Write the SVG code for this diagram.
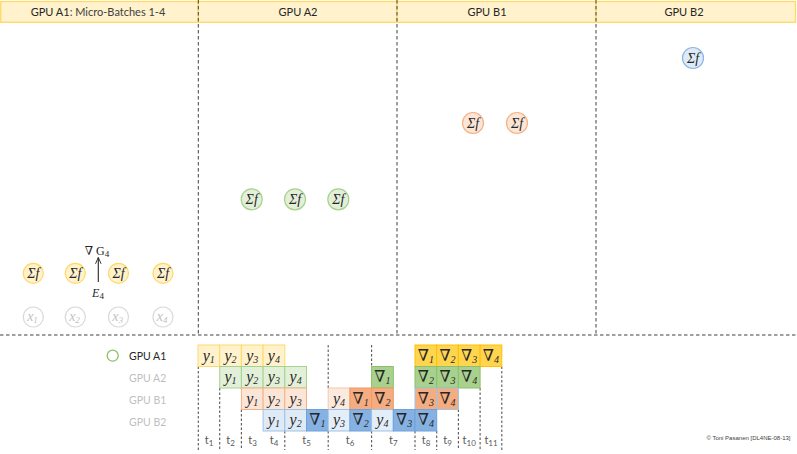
<svg xmlns="http://www.w3.org/2000/svg" width="797" height="454" viewBox="0 0 797 454">
<defs>
<style>
.hdr{fill:#FFF2CC;stroke:#FFD966;stroke-width:1.3}
.ht{font-family:Lato,"Liberation Sans",sans-serif;font-size:11px;fill:#262626;text-anchor:middle}
.hl{fill:#404040}
.sep{stroke:#404040;stroke-width:1;stroke-dasharray:3.5,2.5;fill:none}
.tl{stroke:#595959;stroke-width:1.1;stroke-dasharray:2.5,2;fill:none}
.m{font-family:"Liberation Serif","DejaVu Serif",serif;font-size:14px;fill:#262626;text-anchor:middle}
.i{font-style:italic}
.s{font-size:9px;font-style:italic}
.sy{fill:#FFF2CC;stroke:#FFD966;stroke-width:1.2}
.sg{fill:#E2F0D9;stroke:#A9D18E;stroke-width:1.2}
.so{fill:#FBE5D6;stroke:#F4B183;stroke-width:1.2}
.sb{fill:#DEEBF7;stroke:#8FB4E3;stroke-width:1.2}
.sx{fill:#FFFFFF;stroke:#D9D9D9;stroke-width:1.2}
.xt{fill:#BFBFBF}
.fy{fill:#FFF2CC;stroke:#FFD966;stroke-width:1}
.by{fill:#FFD54F;stroke:#FFC000;stroke-width:1}
.fg{fill:#E2F0D9;stroke:#A9D18E;stroke-width:1}
.bg{fill:#A9D18E;stroke:#8CC06A;stroke-width:1}
.fo{fill:#FBE5D6;stroke:#F4B183;stroke-width:1}
.bo{fill:#F4AC80;stroke:#F29A62;stroke-width:1}
.fb{fill:#DEEBF7;stroke:#9DC3E6;stroke-width:1}
.bb{fill:#86B2E3;stroke:#6FA2DA;stroke-width:1}
.ct{font-family:"Liberation Serif","DejaVu Serif",serif;font-size:16px;fill:#262626;text-anchor:middle}
.cs{font-size:10px;font-style:italic}
.lg{font-family:Lato,"Liberation Sans",sans-serif;font-size:10.5px;fill:#BFBFBF}
.tt{font-family:Lato,"Liberation Sans",sans-serif;font-size:11px;fill:#595959;text-anchor:middle}
.ts{font-size:8px}
</style>
<marker id="arr" viewBox="0 0 10 10" refX="9" refY="5" markerWidth="7" markerHeight="7" orient="auto-start-reverse" markerUnits="userSpaceOnUse">
<path d="M0,1 L9,5 L0,9" fill="none" stroke="#262626" stroke-width="1.3"/>
</marker>
</defs>
<rect width="797" height="454" fill="#FFFFFF"/>

<g id="header">
<rect class="hdr" x="0.7" y="1.5" width="197.6" height="20.8"/>
<rect class="hdr" x="198.3" y="1.5" width="198.7" height="20.8"/>
<rect class="hdr" x="397" y="1.5" width="199" height="20.8"/>
<rect class="hdr" x="596" y="1.5" width="199.5" height="20.8"/>
<text class="ht" x="98" y="16">GPU A1<tspan class="hl">: Micro-Batches 1-4</tspan></text>
<text class="ht" x="298" y="16">GPU A2</text>
<text class="ht" x="487" y="16">GPU B1</text>
<text class="ht" x="684" y="16">GPU B2</text>
</g>

<g id="separators">
<line class="sep" x1="198.3" y1="0" x2="198.3" y2="335"/>
<line class="sep" x1="397" y1="0" x2="397" y2="335"/>
<line class="sep" x1="596" y1="0" x2="596" y2="335"/>
<line class="sep" x1="0" y1="335" x2="797" y2="335"/>
</g>

<g id="node-a1-f1"><circle class="sy" cx="33.3" cy="273.3" r="10"/><text class="m i" x="33.3" y="278">Σf</text></g>
<g id="node-a1-f2"><circle class="sy" cx="75.3" cy="273.3" r="10"/><text class="m i" x="75.3" y="278">Σf</text></g>
<g id="node-a1-f3"><circle class="sy" cx="118.5" cy="273.3" r="10"/><text class="m i" x="118.5" y="278">Σf</text></g>
<g id="node-a1-f4"><circle class="sy" cx="163" cy="273.3" r="10"/><text class="m i" x="163" y="278">Σf</text></g>

<g id="node-x1"><circle class="sx" cx="33.3" cy="317" r="10"/><text class="m i xt" x="32.5" y="320.5">x<tspan class="s" dy="2">1</tspan></text></g>
<g id="node-x2"><circle class="sx" cx="75.3" cy="317" r="10"/><text class="m i xt" x="74.5" y="320.5">x<tspan class="s" dy="2">2</tspan></text></g>
<g id="node-x3"><circle class="sx" cx="118.5" cy="317" r="10"/><text class="m i xt" x="117.7" y="320.5">x<tspan class="s" dy="2">3</tspan></text></g>
<g id="node-x4"><circle class="sx" cx="163" cy="317" r="10"/><text class="m i xt" x="162.2" y="320.5">x<tspan class="s" dy="2">4</tspan></text></g>

<g id="label-grad"><text class="m" x="97" y="254.5" style="font-size:12px">∇ G<tspan class="s" dy="2" style="font-style:normal">4</tspan></text></g>
<g id="label-e4"><text class="m i" x="98" y="297" style="font-size:12px">E<tspan class="s" dy="2" style="font-style:normal">4</tspan></text></g>

<g id="connectors">
<line x1="98.3" y1="282" x2="98.3" y2="257.5" stroke="#262626" stroke-width="1.1" marker-end="url(#arr)"/>
</g>

<g id="node-a2-f1"><circle class="sg" cx="251.7" cy="199.3" r="10.5"/><text class="m i" x="251.7" y="204">Σf</text></g>
<g id="node-a2-f2"><circle class="sg" cx="295" cy="199.3" r="10.5"/><text class="m i" x="295" y="204">Σf</text></g>
<g id="node-a2-f3"><circle class="sg" cx="338.3" cy="199.3" r="10.5"/><text class="m i" x="338.3" y="204">Σf</text></g>

<g id="node-b1-f1"><circle class="so" cx="473" cy="123" r="10.5"/><text class="m i" x="473" y="127.7">Σf</text></g>
<g id="node-b1-f2"><circle class="so" cx="517" cy="123" r="10.5"/><text class="m i" x="517" y="127.7">Σf</text></g>

<g id="node-b2-f1"><circle class="sb" cx="693" cy="58" r="10.5"/><text class="m i" x="693" y="62.7">Σf</text></g>

<g id="legend">
<circle cx="112.7" cy="355.7" r="5.5" fill="#FFFFFF" stroke="#8CC06A" stroke-width="1.3"/>
<text class="lg" x="129" y="359.5" style="fill:#262626">GPU A1</text>
<text class="lg" x="129" y="381.5">GPU A2</text>
<text class="lg" x="129" y="403.5">GPU B1</text>
<text class="lg" x="129" y="425.5">GPU B2</text>
</g>

<g id="timeline-lines">
<line class="tl" x1="198.3" y1="366.5" x2="198.3" y2="450"/>
<line class="tl" x1="219.7" y1="388" x2="219.7" y2="450"/>
<line class="tl" x1="241.4" y1="409.5" x2="241.4" y2="450"/>
<line class="tl" x1="284.8" y1="431" x2="284.8" y2="450"/>
<line class="tl" x1="328.2" y1="345" x2="328.2" y2="388"/>
<line class="tl" x1="328.2" y1="431" x2="328.2" y2="450"/>
<line class="tl" x1="371.6" y1="345" x2="371.6" y2="366.5"/>
<line class="tl" x1="371.6" y1="431" x2="371.6" y2="450"/>
<line class="tl" x1="415" y1="431" x2="415" y2="450"/>
<line class="tl" x1="436.7" y1="431" x2="436.7" y2="450"/>
<line class="tl" x1="458.4" y1="409.5" x2="458.4" y2="450"/>
<line class="tl" x1="480.1" y1="388" x2="480.1" y2="450"/>
<line class="tl" x1="501.8" y1="366.5" x2="501.8" y2="450"/>
</g>

<g id="row-a1">
<rect class="fy" x="198" y="345" width="21.7" height="21.5"/><text class="ct" x="208.8" y="360.5"><tspan class="i">y</tspan><tspan class="cs" dy="2">1</tspan></text>
<rect class="fy" x="219.7" y="345" width="21.7" height="21.5"/><text class="ct" x="230.5" y="360.5"><tspan class="i">y</tspan><tspan class="cs" dy="2">2</tspan></text>
<rect class="fy" x="241.4" y="345" width="21.7" height="21.5"/><text class="ct" x="252.2" y="360.5"><tspan class="i">y</tspan><tspan class="cs" dy="2">3</tspan></text>
<rect class="fy" x="263.1" y="345" width="21.7" height="21.5"/><text class="ct" x="273.9" y="360.5"><tspan class="i">y</tspan><tspan class="cs" dy="2">4</tspan></text>
<rect class="by" x="415" y="345" width="21.7" height="21.5"/><text class="ct" x="425.8" y="360.5">∇<tspan class="cs" dy="2">1</tspan></text>
<rect class="by" x="436.7" y="345" width="21.7" height="21.5"/><text class="ct" x="447.5" y="360.5">∇<tspan class="cs" dy="2">2</tspan></text>
<rect class="by" x="458.4" y="345" width="21.7" height="21.5"/><text class="ct" x="469.2" y="360.5">∇<tspan class="cs" dy="2">3</tspan></text>
<rect class="by" x="480.1" y="345" width="21.7" height="21.5"/><text class="ct" x="490.9" y="360.5">∇<tspan class="cs" dy="2">4</tspan></text>
</g>

<g id="row-a2">
<rect class="fg" x="219.7" y="366.5" width="21.7" height="21.5"/><text class="ct" x="230.5" y="382"><tspan class="i">y</tspan><tspan class="cs" dy="2">1</tspan></text>
<rect class="fg" x="241.4" y="366.5" width="21.7" height="21.5"/><text class="ct" x="252.2" y="382"><tspan class="i">y</tspan><tspan class="cs" dy="2">2</tspan></text>
<rect class="fg" x="263.1" y="366.5" width="21.7" height="21.5"/><text class="ct" x="273.9" y="382"><tspan class="i">y</tspan><tspan class="cs" dy="2">3</tspan></text>
<rect class="fg" x="284.8" y="366.5" width="21.7" height="21.5"/><text class="ct" x="295.6" y="382"><tspan class="i">y</tspan><tspan class="cs" dy="2">4</tspan></text>
<rect class="bg" x="371.6" y="366.5" width="21.7" height="21.5"/><text class="ct" x="382.4" y="382">∇<tspan class="cs" dy="2">1</tspan></text>
<rect class="bg" x="415" y="366.5" width="21.7" height="21.5"/><text class="ct" x="425.8" y="382">∇<tspan class="cs" dy="2">2</tspan></text>
<rect class="bg" x="436.7" y="366.5" width="21.7" height="21.5"/><text class="ct" x="447.5" y="382">∇<tspan class="cs" dy="2">3</tspan></text>
<rect class="bg" x="458.4" y="366.5" width="21.7" height="21.5"/><text class="ct" x="469.2" y="382">∇<tspan class="cs" dy="2">4</tspan></text>
</g>

<g id="row-b1">
<rect class="fo" x="241.4" y="388" width="21.7" height="21.5"/><text class="ct" x="252.2" y="403.5"><tspan class="i">y</tspan><tspan class="cs" dy="2">1</tspan></text>
<rect class="fo" x="263.1" y="388" width="21.7" height="21.5"/><text class="ct" x="273.9" y="403.5"><tspan class="i">y</tspan><tspan class="cs" dy="2">2</tspan></text>
<rect class="fo" x="284.8" y="388" width="21.7" height="21.5"/><text class="ct" x="295.6" y="403.5"><tspan class="i">y</tspan><tspan class="cs" dy="2">3</tspan></text>
<rect class="fo" x="328.2" y="388" width="21.7" height="21.5" style="fill:#FCEADE;stroke:#F8C8A8"/><text class="ct" x="339" y="403.5"><tspan class="i">y</tspan><tspan class="cs" dy="2">4</tspan></text>
<rect class="bo" x="349.9" y="388" width="21.7" height="21.5"/><text class="ct" x="360.7" y="403.5">∇<tspan class="cs" dy="2">1</tspan></text>
<rect class="bo" x="371.6" y="388" width="21.7" height="21.5"/><text class="ct" x="382.4" y="403.5">∇<tspan class="cs" dy="2">2</tspan></text>
<rect class="bo" x="415" y="388" width="21.7" height="21.5" style="stroke:#9DC3E6"/><text class="ct" x="425.8" y="403.5">∇<tspan class="cs" dy="2">3</tspan></text>
<rect class="bo" x="436.7" y="388" width="21.7" height="21.5" style="stroke:#9DC3E6"/><text class="ct" x="447.5" y="403.5">∇<tspan class="cs" dy="2">4</tspan></text>
</g>

<g id="row-b2">
<rect class="fb" x="263.1" y="409.5" width="21.7" height="21.5"/><text class="ct" x="273.9" y="425"><tspan class="i">y</tspan><tspan class="cs" dy="2">1</tspan></text>
<rect class="fb" x="284.8" y="409.5" width="21.7" height="21.5"/><text class="ct" x="295.6" y="425"><tspan class="i">y</tspan><tspan class="cs" dy="2">2</tspan></text>
<rect class="bb" x="306.5" y="409.5" width="21.7" height="21.5"/><text class="ct" x="317.3" y="425">∇<tspan class="cs" dy="2">1</tspan></text>
<rect class="fb" x="328.2" y="409.5" width="21.7" height="21.5" style="fill:#E4EEF8"/><text class="ct" x="339" y="425"><tspan class="i">y</tspan><tspan class="cs" dy="2">3</tspan></text>
<rect class="bb" x="349.9" y="409.5" width="21.7" height="21.5"/><text class="ct" x="360.7" y="425">∇<tspan class="cs" dy="2">2</tspan></text>
<rect class="fb" x="371.6" y="409.5" width="21.7" height="21.5" style="fill:#E4EEF8"/><text class="ct" x="382.4" y="425"><tspan class="i">y</tspan><tspan class="cs" dy="2">4</tspan></text>
<rect class="bb" x="393.3" y="409.5" width="21.7" height="21.5"/><text class="ct" x="404.1" y="425">∇<tspan class="cs" dy="2">3</tspan></text>
<rect class="bb" x="415" y="409.5" width="21.7" height="21.5"/><text class="ct" x="425.8" y="425">∇<tspan class="cs" dy="2">4</tspan></text>
</g>

<g id="time-labels">
<text class="tt" x="209" y="444">t<tspan class="ts" dy="2">1</tspan></text>
<text class="tt" x="230.5" y="444">t<tspan class="ts" dy="2">2</tspan></text>
<text class="tt" x="252.5" y="444">t<tspan class="ts" dy="2">3</tspan></text>
<text class="tt" x="274" y="444">t<tspan class="ts" dy="2">4</tspan></text>
<text class="tt" x="306.5" y="444">t<tspan class="ts" dy="2">5</tspan></text>
<text class="tt" x="350" y="444">t<tspan class="ts" dy="2">6</tspan></text>
<text class="tt" x="393.3" y="444">t<tspan class="ts" dy="2">7</tspan></text>
<text class="tt" x="426" y="444">t<tspan class="ts" dy="2">8</tspan></text>
<text class="tt" x="447.5" y="444">t<tspan class="ts" dy="2">9</tspan></text>
<text class="tt" x="469.2" y="444">t<tspan class="ts" dy="2">10</tspan></text>
<text class="tt" x="491" y="444">t<tspan class="ts" dy="2">11</tspan></text>
</g>

<text x="790.5" y="440" font-family="'Liberation Sans',sans-serif" font-size="6px" fill="#404040" text-anchor="end">© Toni Pasanen [DL4NE-08-13]</text>
</svg>
